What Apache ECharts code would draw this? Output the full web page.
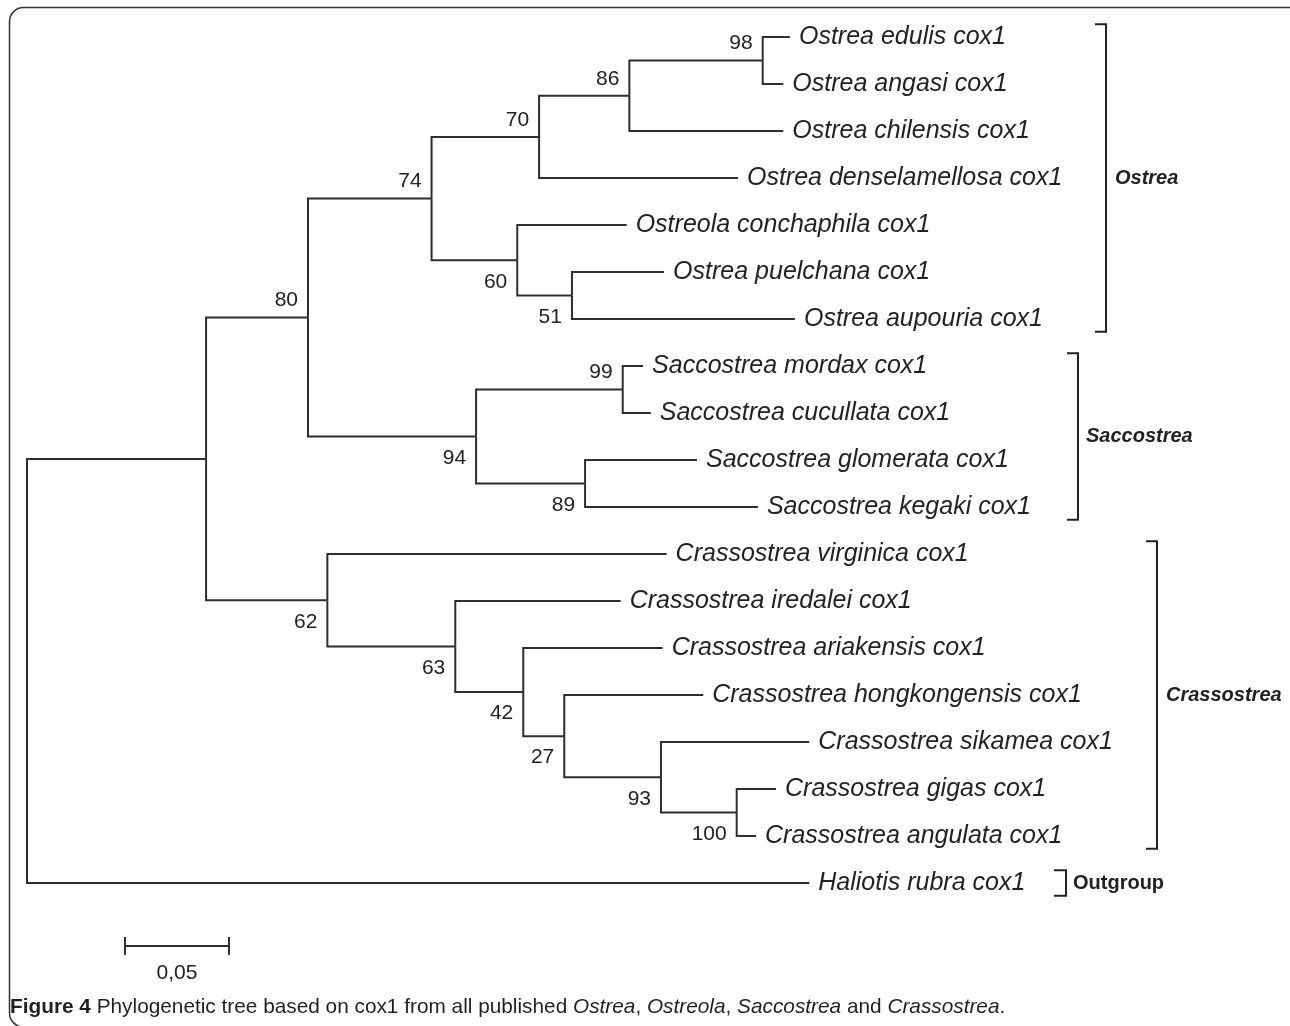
<!DOCTYPE html>
<html>
<head>
<meta charset="utf-8">
<script src="https://cdn.jsdelivr.net/npm/echarts@6/dist/echarts.min.js"></script>
<style>
html,body{margin:0;padding:0;background:#fff;}
#chart{width:1290px;height:1026px;}
</style>
</head>
<body>
<div id="chart"></div>
<script>
// ---------------- DATA ----------------
// Leaves, top to bottom
const leafNames = [
  'Ostrea edulis cox1','Ostrea angasi cox1','Ostrea chilensis cox1','Ostrea denselamellosa cox1',
  'Ostreola conchaphila cox1','Ostrea puelchana cox1','Ostrea aupouria cox1',
  'Saccostrea mordax cox1','Saccostrea cucullata cox1','Saccostrea glomerata cox1','Saccostrea kegaki cox1',
  'Crassostrea virginica cox1','Crassostrea iredalei cox1','Crassostrea ariakensis cox1',
  'Crassostrea hongkongensis cox1','Crassostrea sikamea cox1','Crassostrea gigas cox1',
  'Crassostrea angulata cox1','Haliotis rubra cox1'
];
const leafParent = ['n98','n98','n86','n70','n60','n51','n51','n99','n99','n89','n89',
  'n62','n63','n42','n27','n93','n100','n100','root'];
// distance from root to each tip (substitutions per site)
const leafDepth = [0.3668,0.3636,0.3636,0.3418,0.2883,0.3063,0.3692,0.2962,0.2999,0.3221,0.3514,
  0.3075,0.2854,0.3056,0.3251,0.3761,0.3601,0.3505,0.3761];

// Internal nodes
const nodeNames  = ['root','n1','n80','n74','n70','n86','n98','n60','n51','n94','n99','n89','n62','n63','n42','n27','n93','n100'];
const nodeParent = [null,'root','n1','n80','n74','n70','n86','n74','n60','n80','n94','n94','n1','n62','n63','n42','n27','n93'];
const nodeDepth  = [0,0.0861,0.1351,0.1945,0.2462,0.2896,0.3537,0.2357,0.2620,0.2159,0.2864,0.2683,0.1444,0.2059,0.2386,0.2583,0.3048,0.3412];
const bootstrap  = [null,null,80,74,70,86,98,60,51,94,99,89,62,63,42,27,93,100];

// Scale bar
const scaleBarLength = 0.05;
const scaleBarLabel = '0,05';

// Clades (bracket annotations)
const cladeNames = ['Ostrea','Saccostrea','Crassostrea','Outgroup'];
const cladeFirst = [0,7,11,18];
const cladeLast  = [6,10,17,18];

const captionText = '{b|Figure 4} Phylogenetic tree based on cox1 from all published {i|Ostrea}, {i|Ostreola}, {i|Saccostrea} and {i|Crassostrea}.';

// ---------------- LAYOUT (computed) ----------------
const idx = {};
nodeNames.forEach((n,i)=>idx[n]=i);
const children = nodeNames.map(()=>[]);
nodeParent.forEach((p,i)=>{ if(p) children[idx[p]].push({type:'node',i}); });
leafParent.forEach((p,i)=>children[idx[p]].push({type:'leaf',i}));
const nodeRow = new Array(nodeNames.length);
function rowOf(c){ return c.type==='leaf' ? c.i : computeRow(c.i); }
function computeRow(i){
  if(nodeRow[i]!==undefined) return nodeRow[i];
  const rows = children[i].map(rowOf);
  nodeRow[i] = (Math.min(...rows)+Math.max(...rows))/2;
  return nodeRow[i];
}
computeRow(0);
function isUpperChild(i){
  const p = nodeParent[i]; if(!p) return true;
  const sibRows = children[idx[p]].map(rowOf);
  return nodeRow[i] <= Math.min(...sibRows);
}

// edges: [parentDepth, parentRow, childDepth, childRow]
const edges = [];
nodeNames.forEach((n,i)=>{
  if(nodeParent[i]){ const p=idx[nodeParent[i]]; edges.push([nodeDepth[p],nodeRow[p],nodeDepth[i],nodeRow[i]]); }
});
leafNames.forEach((n,i)=>{ const p=idx[leafParent[i]]; edges.push([nodeDepth[p],nodeRow[p],leafDepth[i],i]); });

const LINE = '#2e2e2e';
const TXT = '#222';
const FAM = '"Liberation Sans", Arial, Helvetica, sans-serif';
const chart = echarts.init(document.getElementById('chart'), null, {renderer:'canvas'});

const option = {
  animation:false,
  backgroundColor:'#fff',
  grid:{left:27, top:37, width:1248, height:846},
  xAxis:{type:'value', min:0, max:0.6, show:false},
  yAxis:{type:'value', min:0, max:18, inverse:true, show:false},
  series:[
    { // branches
      type:'custom', coordinateSystem:'cartesian2d', clip:false,
      data: edges,
      encode:{x:[0,2], y:[1,3]},
      renderItem:function(params, api){
        const a = api.coord([api.value(0), api.value(1)]);
        const b = api.coord([api.value(0), api.value(3)]);
        const c = api.coord([api.value(2), api.value(3)]);
        return {type:'polyline', shape:{points:[a,b,c]},
          style:{stroke:LINE, lineWidth:2, fill:null, lineJoin:'miter', lineCap:'butt'}};
      }
    },
    { // leaf labels
      type:'custom', coordinateSystem:'cartesian2d', clip:false,
      data: leafNames.map((n,i)=>[leafDepth[i], i]),
      encode:{x:0,y:1},
      renderItem:function(params, api){
        const p = api.coord([api.value(0), api.value(1)]);
        return {type:'text', x:p[0]+9, y:p[1],
          style:{text:leafNames[params.dataIndex], fill:TXT,
            font:'italic 25px '+FAM, align:'left', verticalAlign:'middle'}};
      }
    },
    { // bootstrap values
      type:'custom', coordinateSystem:'cartesian2d', clip:false,
      data: nodeNames.map((n,i)=>[nodeDepth[i], nodeRow[i]]),
      encode:{x:0,y:1},
      renderItem:function(params, api){
        const i = params.dataIndex;
        if(bootstrap[i]===null) return null;
        const p = api.coord([nodeDepth[i], nodeRow[i]]);
        const up = isUpperChild(i);
        return {type:'text', x:p[0]-10, y:p[1] + (up ? -17 : 21.5),
          style:{text:String(bootstrap[i]), fill:TXT,
            font:'21px '+FAM, align:'right', verticalAlign:'middle'}};
      }
    },
    { // scale bar
      type:'custom', coordinateSystem:'cartesian2d', clip:false,
      data: [[0.0471, 19.34, 0.0471+scaleBarLength]],
      encode:{x:[0,2], y:1},
      renderItem:function(params, api){
        const a = api.coord([api.value(0), api.value(1)]);
        const b = api.coord([api.value(2), api.value(1)]);
        return {type:'group', children:[
          {type:'line', shape:{x1:a[0],y1:a[1],x2:b[0],y2:b[1]}, style:{stroke:LINE,lineWidth:2}},
          {type:'line', shape:{x1:a[0],y1:a[1]-9,x2:a[0],y2:a[1]+9}, style:{stroke:LINE,lineWidth:2}},
          {type:'line', shape:{x1:b[0],y1:b[1]-9,x2:b[0],y2:b[1]+9}, style:{stroke:LINE,lineWidth:2}},
          {type:'text', x:(a[0]+b[0])/2, y:a[1]+27, style:{text:scaleBarLabel, fill:TXT,
            font:'21px '+FAM, align:'center', verticalAlign:'middle'}}
        ]};
      }
    },
    { // clade brackets
      type:'custom', coordinateSystem:'cartesian2d', clip:false,
      data: cladeNames.map((n,i)=>[0, cladeFirst[i], cladeLast[i]]),
      encode:{y:[1,2]},
      renderItem:function(params, api){
        const i = params.dataIndex;
        const bx = [1106,1078,1157,1066][i];
        const tick = [11,11,11,12][i];
        const gap = [9,8,9,7][i];
        const top = api.coord([0, cladeFirst[i]-0.27])[1];
        const bot = api.coord([0, cladeLast[i]+0.27])[1];
        const italic = i<3;
        return {type:'group', children:[
          {type:'polyline', shape:{points:[[bx-tick,top],[bx,top],[bx,bot],[bx-tick,bot]]},
            style:{stroke:'#222', lineWidth:2, fill:null}},
          {type:'text', x:bx+gap, y:(top+bot)/2, style:{text:cladeNames[i], fill:'#222',
            font:(italic?'italic ':'')+'bold 20px '+FAM, align:'left', verticalAlign:'middle'}}
        ]};
      }
    }
  ],
  graphic:[
    {type:'rect', shape:{x:9.5, y:7.5, width:1300, height:1019.5, r:14},
      style:{stroke:'#333', lineWidth:1.5, fill:null}, silent:true},
    {type:'text', x:10, y:1007,
      style:{text:captionText, fill:'#231f20',
        font:'20.8px '+FAM, verticalAlign:'middle', align:'left',
        rich:{
          b:{fontWeight:'bold', fontSize:20.8, fontFamily:FAM, fill:'#231f20'},
          i:{fontStyle:'italic', fontSize:20.8, fontFamily:FAM, fill:'#231f20'}
        }}}
  ]
};
chart.setOption(option);
</script>
</body>
</html>
